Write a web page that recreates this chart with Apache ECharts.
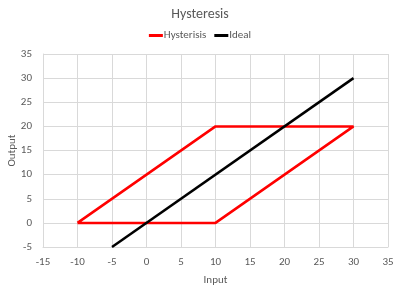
<!DOCTYPE html>
<html><head><meta charset="utf-8">
<script src="https://cdn.jsdelivr.net/npm/echarts@6/dist/echarts.min.js"></script>
<style>html,body{margin:0;padding:0;background:#fff}#c{width:400px;height:291px}</style>
</head><body><div id="c"></div>
<script>
const hysteresisX = [-10, 10, 30, 10, -10];
const hysteresisY = [0, 0, 20, 20, 0];
const idealX = [-5, 30];
const idealY = [-5, 30];
const xTicks = {min: -15, max: 35, interval: 5};
const yTicks = {min: -5, max: 35, interval: 5};

const chart = echarts.init(document.getElementById('c'));
const txt = '#595959';
const grid = '#d9d9d9';
const ff = 'Carlito, Calibri, "Open Sans", sans-serif';
chart.setOption({
  animation: false,
  textStyle: {fontFamily: ff},
  title: {text: 'Hysteresis', left: 'center', top: 2, textStyle: {fontFamily: ff, fontSize: 14, fontWeight: 'normal', color: txt}},
  legend: {top: 25, left: 'center', itemWidth: 14, itemHeight: 3, itemGap: 8, icon: 'rect',
    textStyle: {fontFamily: ff, fontSize: 11, color: txt, padding: [0,0,0,-4]},
    data: [{name: 'Hysterisis'}, {name: 'Ideal'}]},
  grid: {left: 43, right: 12, top: 54, bottom: 44, containLabel: false, outerBoundsMode: 'none'},
  xAxis: {type: 'value', min: xTicks.min, max: xTicks.max, interval: xTicks.interval,
    name: 'Input', nameLocation: 'middle', nameGap: 28, nameMoveOverlap: false, nameTextStyle: {fontFamily: ff, fontSize: 11, color: txt},
    axisLine: {show: true, onZero: false, lineStyle: {color: grid}}, axisTick: {show: false},
    axisLabel: {fontFamily: ff, fontSize: 11, color: txt, margin: 10},
    splitLine: {show: true, lineStyle: {color: grid}}},
  yAxis: {type: 'value', min: yTicks.min, max: yTicks.max, interval: yTicks.interval,
    name: 'Output', nameLocation: 'middle', nameGap: 25, nameMoveOverlap: false, nameTextStyle: {fontFamily: ff, fontSize: 11, color: txt},
    axisLine: {show: true, onZero: false, lineStyle: {color: grid}}, axisTick: {show: false},
    axisLabel: {fontFamily: ff, fontSize: 11, color: txt, margin: 11},
    splitLine: {show: true, lineStyle: {color: grid}}},
  series: [
    {name: 'Hysterisis', type: 'line', showSymbol: false, symbol: 'none', color: '#ff0000',
      lineStyle: {width: 2.5, color: '#ff0000'},
      data: hysteresisX.map((x, i) => [x, hysteresisY[i]])},
    {name: 'Ideal', type: 'line', showSymbol: false, symbol: 'none', color: '#000000',
      lineStyle: {width: 2.5, color: '#000000'},
      data: idealX.map((x, i) => [x, idealY[i]])}
  ]
});
</script></body></html>
